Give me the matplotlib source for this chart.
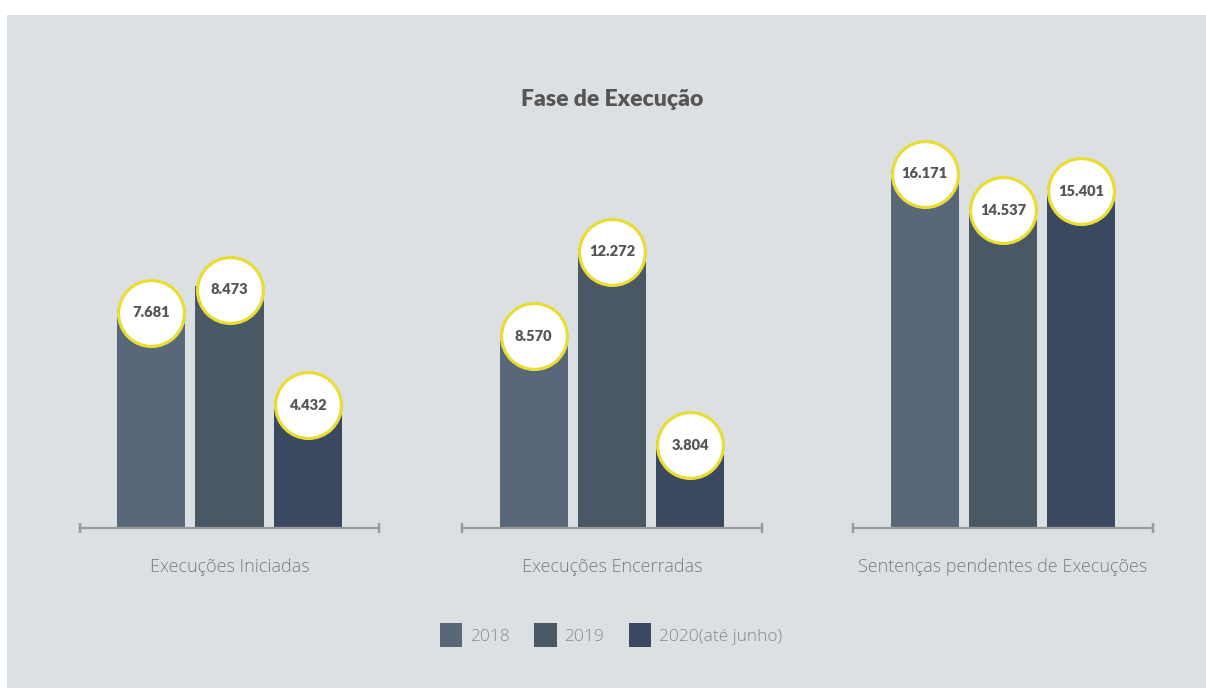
import matplotlib.pyplot as plt
from matplotlib.patches import Rectangle, Patch
from matplotlib import transforms

# Chart data
title = "Fase de Execução"
categories = ["Execuções Iniciadas", "Execuções Encerradas", "Sentenças pendentes de Execuções"]
series_names = ["2018", "2019", "2020(até junho)"]
values = [
    [7681, 8473, 4432],     # Execuções Iniciadas
    [8570, 12272, 3804],    # Execuções Encerradas
    [16171, 14537, 15401],  # Sentenças pendentes de Execuções
]
value_labels = [
    ["7.681", "8.473", "4.432"],
    ["8.570", "12.272", "3.804"],
    ["16.171", "14.537", "15.401"],
]

colors = ["#596878", "#4a5765", "#3a4960"]
bg = "#dde0e3"
W, H = 1206, 688

fig = plt.figure(figsize=(W / 100, H / 100), dpi=100)
fig.patch.set_facecolor("white")
fig.patches.append(Rectangle((7 / W, 0), 1 - 7 / W, (H - 15) / H,
                             transform=fig.transFigure, facecolor=bg,
                             edgecolor="none", zorder=-10))

bold_font = ["Lato", "DejaVu Sans"]
light = ["Open Sans", "DejaVu Sans"]


def px_axes(left, bottom_px, right, top_px):
    return fig.add_axes([left / W, (H - bottom_px) / H,
                         (right - left) / W, (bottom_px - top_px) / H])


# each group has its own vertical scale (infographic style)
axis_left = [80, 462, 853]
axis_right = [379, 762, 1153]
tallest_px = [242, 280, 358]  # pixel height of tallest bar in each group
base_px, top_px = 528, 128

for g, vals in enumerate(values):
    ax = px_axes(axis_left[g], base_px, axis_right[g], top_px)
    ax.set_facecolor("none")
    xs = range(len(vals))
    ax.bar(xs, vals, width=0.872, color=colors, zorder=2)
    ax.set_xlim(-0.915, 2.915)
    ax.set_ylim(0, max(vals) * (base_px - top_px) / tallest_px[g])
    for s in ax.spines.values():
        s.set_visible(False)
    ax.set_xticks([])
    ax.set_yticks([])
    # baseline with end caps
    ax.axhline(0, color="#9a9a9a", lw=1.6, zorder=3, clip_on=False)
    for xe in (-0.915, 2.915):
        ax.plot([xe, xe], [0, 0], marker="|", markersize=7, mew=1.6,
                color="#9a9a9a", clip_on=False, zorder=3)
    off = transforms.offset_copy(ax.transData, fig=fig, x=0, y=-4, units="dots")
    for x, v, lab in zip(xs, vals, value_labels[g]):
        ax.scatter([x], [v], s=2250, facecolor="white", edgecolor="#e9dd35",
                   linewidth=2.3, transform=off, zorder=4, clip_on=False)
        ax.text(x, v, lab, transform=off, ha="center", va="center",
                fontsize=10.5, fontweight="heavy", color="#555555",
                family=bold_font, zorder=5, clip_on=False)
    fig.text((axis_left[g] + axis_right[g]) / 2 / W, (H - 567) / H, categories[g],
             ha="center", va="center", fontsize=13, color="#7a7a7a",
             family=light, fontweight="light")

fig.text(612 / W, (H - 99) / H, title, ha="center", va="center",
         fontsize=16.5, fontweight="heavy", color="#555555", family=bold_font)

handles = [Patch(facecolor=c, edgecolor="none") for c in colors]
leg = fig.legend(handles, series_names, loc="center", ncol=3,
                 bbox_to_anchor=(611 / W, (H - 635) / H), frameon=False,
                 handlelength=1.3, handleheight=1.75, handletextpad=0.45,
                 columnspacing=1.4, prop={"family": light, "size": 12.5, "weight": "light"})
for t in leg.get_texts():
    t.set_color("#888888")

fig.savefig("out.png", dpi=100, facecolor=fig.get_facecolor())
